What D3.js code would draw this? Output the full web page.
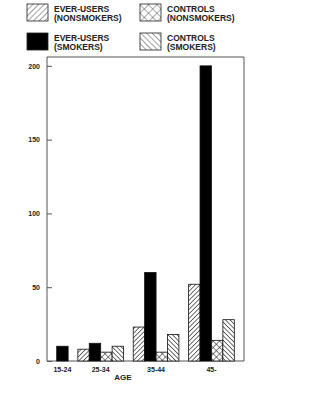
<!DOCTYPE html>
<html lang="en">
<head>
  <meta charset="UTF-8" />
  <title>Ever-users vs controls by age</title>
  <script src="https://d3js.org/d3.v7.min.js"></script>
  <style>
    body { margin: 0; background: #fff; }
    svg { display: block; font-family: "Liberation Sans", Arial, sans-serif; }
    .lbl { font-weight: bold; fill: #222; }
  </style>
</head>
<body>
  <div id="chart"></div>
  <script>
    // data
    const ageGroups = ["15-24", "25-34", "35-44", "45-"];
    const seriesNames = ["EVER-USERS (NONSMOKERS)", "EVER-USERS (SMOKERS)", "CONTROLS (NONSMOKERS)", "CONTROLS (SMOKERS)"];
    const everNonsmokers = [null, 8, 23, 52];
    const everSmokers = [10, 12, 60, 200];
    const controlsNonsmokers = [null, 6, 6, 14];
    const controlsSmokers = [null, 10, 18, 28];
    const yTicks = [0, 50, 100, 150, 200];

    const seriesValues = [everNonsmokers, everSmokers, controlsNonsmokers, controlsSmokers];
    const fills = ["url(#hatchR)", "#000", "url(#cross)", "url(#hatchL)"];

    const W = 318, H = 403;
    const plot = { left: 47, right: 244, top: 57, bottom: 361 };
    const ink = "#555";

    const svg = d3.select("#chart").append("svg")
      .attr("width", W).attr("height", H);

    // patterns
    const defs = svg.append("defs");
    function hatch(id, angle, gap, sw) {
      const p = defs.append("pattern")
        .attr("id", id).attr("patternUnits", "userSpaceOnUse")
        .attr("width", gap).attr("height", gap)
        .attr("patternTransform", `rotate(${angle})`);
      p.append("rect").attr("width", gap).attr("height", gap).attr("fill", "#fff");
      p.append("line").attr("x1", 0).attr("y1", 0).attr("x2", 0).attr("y2", gap)
        .attr("stroke", "#111").attr("stroke-width", sw);
    }
    hatch("hatchR", 45, 3.2, 1.2);
    hatch("hatchL", -45, 3.2, 1.2);
    hatch("hatchRl", 45, 4, 0.8);
    hatch("hatchLl", -45, 4, 0.8);
    function cross(id, size, sw) {
      const p = defs.append("pattern")
        .attr("id", id).attr("patternUnits", "userSpaceOnUse")
        .attr("width", size).attr("height", size).attr("patternTransform", "rotate(45)");
      p.append("rect").attr("width", size).attr("height", size).attr("fill", "#fff");
      p.append("line").attr("x1", 0).attr("y1", 0).attr("x2", 0).attr("y2", size).attr("stroke", "#111").attr("stroke-width", sw);
      p.append("line").attr("x1", 0).attr("y1", 0).attr("x2", size).attr("y2", 0).attr("stroke", "#111").attr("stroke-width", sw);
    }
    cross("cross", 4.5, 1);
    cross("crossl", 6, 0.7);

    // bars packed per group: only bars with a value, gap between groups
    const gapUnits = 0.85;
    const bars = [];
    const groupCenters = [];
    let u = gapUnits;
    ageGroups.forEach((g, gi) => {
      const start = u;
      seriesValues.forEach((vals, si) => {
        if (vals[gi] != null) {
          bars.push({ group: g, series: si, value: vals[gi], u0: u });
          u += 1;
        }
      });
      groupCenters.push({ group: g, u: (start + u) / 2 });
      u += gapUnits;
    });

    const x = d3.scaleLinear().domain([0, u]).range([plot.left, plot.right]);
    const y = d3.scaleLinear().domain([0, 206]).range([plot.bottom, plot.top]);

    // frame
    svg.append("path")
      .attr("d", `M${plot.left},${plot.bottom}V${plot.top}H${plot.right}V${plot.bottom}H${plot.left}`)
      .attr("fill", "none").attr("stroke", ink).attr("stroke-width", 1);

    // y axis
    const yAxis = svg.append("g")
      .attr("transform", `translate(${plot.left},0)`)
      .call(d3.axisLeft(y).tickValues(yTicks).tickSizeInner(-5).tickSizeOuter(0).tickPadding(7));
    yAxis.select(".domain").remove();
    yAxis.selectAll("line").attr("stroke", ink);
    yAxis.selectAll("text").attr("class", "lbl").style("font-size", "7px");
    yAxis.attr("font-family", null);

    // bars
    svg.append("g").selectAll("rect")
      .data(bars)
      .join("rect")
      .attr("x", d => x(d.u0))
      .attr("width", d => x(d.u0 + 1) - x(d.u0))
      .attr("y", d => y(d.value))
      .attr("height", d => y(0) - y(d.value))
      .attr("fill", d => fills[d.series])
      .attr("stroke", "#111").attr("stroke-width", 0.8);

    // x labels
    svg.append("g").selectAll("text")
      .data(groupCenters)
      .join("text")
      .attr("class", "lbl")
      .attr("x", d => x(d.u))
      .attr("y", 372)
      .attr("text-anchor", "middle")
      .style("font-size", "7px")
      .text(d => d.group);

    svg.append("text").attr("class", "lbl")
      .attr("x", 123).attr("y", 380)
      .attr("text-anchor", "middle")
      .style("font-size", "8px")
      .text("AGE");

    // legend
    const legendFills = ["url(#hatchRl)", "#000", "url(#crossl)", "url(#hatchLl)"];
    const legendPos = [[27, 4], [27, 33], [140, 4], [140, 33]];
    const leg = svg.append("g").selectAll("g")
      .data(seriesNames)
      .join("g")
      .attr("transform", (d, i) => `translate(${legendPos[i][0]},${legendPos[i][1]})`);
    leg.append("rect")
      .attr("width", 21).attr("height", 17)
      .attr("fill", (d, i) => legendFills[i])
      .attr("stroke", "#222").attr("stroke-width", 0.8);
    leg.append("text")
      .attr("class", "lbl")
      .style("font-size", "8.5px")
      .selectAll("tspan")
      .data(d => [d.split(" ")[0], d.split(" ")[1]])
      .join("tspan")
      .attr("x", 27)
      .attr("y", (d, i) => 7.5 + i * 9)
      .text(d => d);
  </script>
</body>
</html>
